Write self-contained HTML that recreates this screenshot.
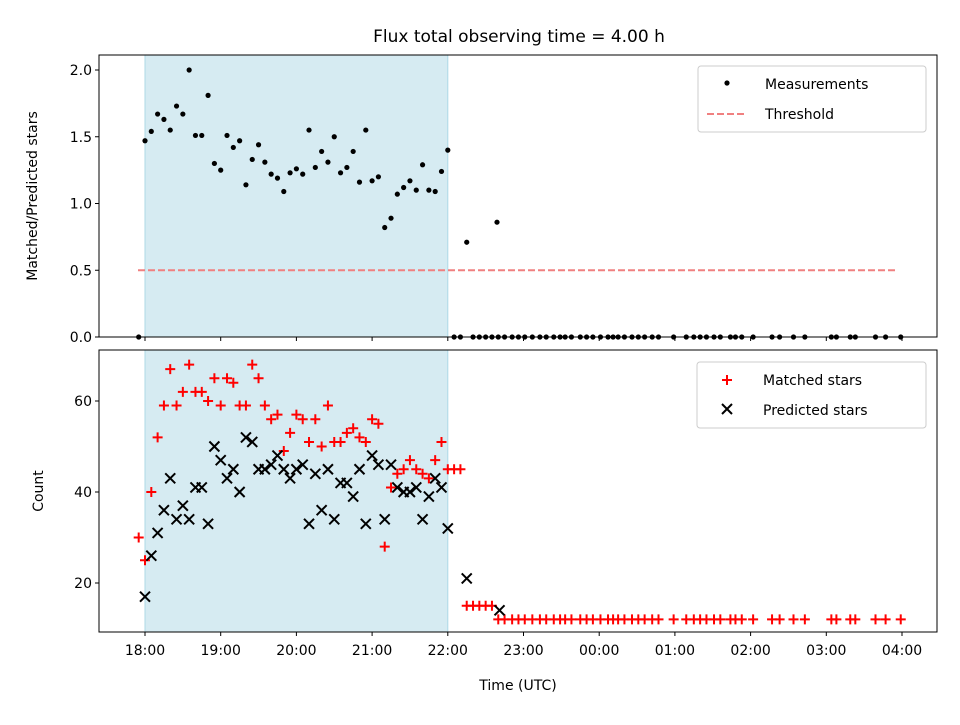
<!DOCTYPE html>
<html><head><meta charset="utf-8"><style>
body{margin:0;background:#fff;}
svg text{font-family:"DejaVu Sans","Liberation Sans",sans-serif;fill:#000;}
</style></head><body>
<svg id="chart" width="960" height="720" xmlns="http://www.w3.org/2000/svg"></svg>
<script>
// data: minutes since 18:00
const winRatio = [0,1.47,1.54,1.67,1.63,1.55,1.73,1.67,2.0,1.51,1.51,1.81,1.30,1.25,1.51,1.42,1.47,1.14,1.33,1.44,1.31,1.22,1.19,1.09,1.23,1.26,1.22,1.55,1.27,1.39,1.31,1.50,1.23,1.27,1.39,1.16,1.55,1.17,1.2,0.82,0.89,1.07,1.12,1.17,1.10,1.29,1.10,1.09,1.24,1.40];
const winMatched = [30,25,40,52,59,67,59,62,68,62,62,60,65,59,65,64,59,59,68,65,59,56,57,49,53,57,56,51,56,50,59,51,51,53,54,52,51,56,55,28,41,44,45,47,45,44,43,47,51,45,45,45,15,15,15,15,15];
const winPredicted = [17,26,31,36,43,34,37,34,41,41,33,50,47,43,45,40,52,51,45,45,46,48,45,43,45,46,33,44,36,45,34,42,42,39,45,33,48,46,34,46,41,40,40,41,34,39,43,41,32];
const lateTimes = [280,285,291,296,301,307,313,318,324,329,333,338,345,350,355,361,367,371,375,380,386,391,396,402,407,419,429,435,440,445,451,456,464,468,473,482,497,503,514,523,544,548,559,563,579,587,599];
const lateMatchedValue = 12;
const extraRatioTimes = [245,250,255,260,265,270,275,279];
const extraRatioValues = [0,0,0.71,0,0,0,0,0.86];
const extraPredTimes = [255,281];
const extraPredValues = [21,14];
const threshold = 0.5;
const xTickLabels = ["18:00","19:00","20:00","21:00","22:00","23:00","00:00","01:00","02:00","03:00","04:00"];
const topTicks = [0,0.5,1.0,1.5,2.0];
const botTicks = [20,40,60];

const svg = document.getElementById('chart');
const NS = 'http://www.w3.org/2000/svg';
function mk(tag, attrs, parent){const e=document.createElementNS(NS,tag);for(const k in attrs)e.setAttribute(k,attrs[k]);(parent||svg).appendChild(e);return e;}
const X0=99,X1=937;
const xs = m => 145 + m*75.7/60;
const yTop = v => 337 - v*133.5;
const yBot = v => 401 - (v-60)*4.55;

function panel(y0,y1,name){
  const g=mk('g',{});
  
  
  const s=mk('rect',{x:xs(0),y:y0,width:xs(240)-xs(0),height:y1-y0,fill:'#add8e6','fill-opacity':0.5,stroke:'#add8e6','stroke-width':1},g);
  
  
  return g;
}
const gTop=panel(55,337,'top-panel');
const gBot=panel(350,632,'bottom-panel');

const th=mk('line',{x1:138,x2:895,y1:yTop(threshold),y2:yTop(threshold),stroke:'#f08080','stroke-width':2,'stroke-dasharray':'7,3'},gTop);



function dot(m,v){const c=mk('circle',{cx:xs(m),cy:yTop(v),r:2.6,fill:'#000'},gTop);
  
  }
winRatio.forEach((v,i)=>dot((i-1)*5,v));
extraRatioTimes.forEach((m,i)=>dot(m,extraRatioValues[i]));
lateTimes.forEach(m=>dot(m,0));

function plus(m,v){const x=xs(m),y=yBot(v);
  const p=mk('path',{d:`M${x-5},${y}H${x+5}M${x},${y-5}V${y+5}`,stroke:'#f00','stroke-width':2},gBot);
  
  }
function cross(m,v){const x=xs(m),y=yBot(v);
  const p=mk('path',{d:`M${x-5},${y-5}L${x+5},${y+5}M${x-5},${y+5}L${x+5},${y-5}`,stroke:'#000','stroke-width':2},gBot);
  
  }
winMatched.forEach((v,i)=>plus((i-1)*5,v));
lateTimes.forEach(m=>plus(m,lateMatchedValue));
winPredicted.forEach((v,i)=>cross(i*5,v));
extraPredTimes.forEach((m,i)=>cross(m,extraPredValues[i]));

[[55,337,'top-axes-frame'],[350,632,'bottom-axes-frame']].forEach(([a,b,n])=>{
  const r=mk('rect',{x:X0,y:a,width:X1-X0,height:b-a,fill:'none',stroke:'#000','stroke-width':1});
  
  
});
xTickLabels.forEach((lab,i)=>{
  const x=xs(i*60);
  mk('line',{x1:x,x2:x,y1:337,y2:341,stroke:'#000'});
  mk('line',{x1:x,x2:x,y1:632,y2:636,stroke:'#000'});
  const t=mk('text',{x:x,y:655,'font-size':14,'text-anchor':'middle'});
  t.textContent=lab;
  
  
});
topTicks.forEach(v=>{
  const y=yTop(v);
  mk('line',{x1:95,x2:99,y1:y,y2:y,stroke:'#000'});
  const t=mk('text',{x:92,y:y+5,'font-size':14,'text-anchor':'end'});
  t.textContent=v.toFixed(1);
  
  
});
botTicks.forEach(v=>{
  const y=yBot(v);
  mk('line',{x1:95,x2:99,y1:y,y2:y,stroke:'#000'});
  const t=mk('text',{x:92,y:y+5,'font-size':14,'text-anchor':'end'});
  t.textContent=v;
  
  
});
</script>
<svg width="960" height="720" style="position:absolute;left:0;top:0" xmlns="http://www.w3.org/2000/svg">
<text x="519" y="42" font-size="17" text-anchor="middle">Flux total observing time = 4.00 h</text>
<text x="518" y="690" font-size="14" text-anchor="middle">Time (UTC)</text>
<text transform="translate(37,196) rotate(-90)" font-size="14" text-anchor="middle">Matched/Predicted stars</text>
<text transform="translate(43,491) rotate(-90)" font-size="14" text-anchor="middle">Count</text>
<g>
<rect x="698" y="66" width="228" height="66" rx="3" fill="#fff" fill-opacity="0.8" stroke="#ccc"/>
<circle cx="727" cy="83" r="2.6" fill="#000"/>
<text x="765" y="89" font-size="14">Measurements</text>
<line x1="707" x2="747" y1="114" y2="114" stroke="#f08080" stroke-width="2" stroke-dasharray="7,3"/>
<text x="765" y="119" font-size="14">Threshold</text>
</g>
<g>
<rect x="697" y="362" width="229" height="66" rx="3" fill="#fff" fill-opacity="0.8" stroke="#ccc"/>
<path d="M722,380H732M727,375V385" stroke="#f00" stroke-width="2"/>
<text x="763" y="385" font-size="14">Matched stars</text>
<path d="M722,404L732,414M722,414L732,404" stroke="#000" stroke-width="2"/>
<text x="763" y="415" font-size="14">Predicted stars</text>
</g>
</svg>
</body></html>
